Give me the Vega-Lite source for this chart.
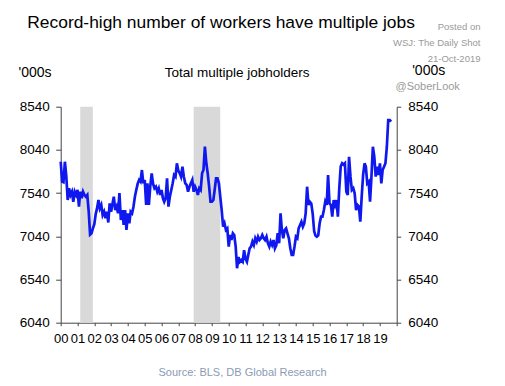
{
  "$schema": "https://vega.github.io/schema/vega-lite/v6.json",
  "width": 336,
  "height": 216,
  "autosize": {"type": "none"},
  "padding": {"left": 60.7, "top": 106.7, "right": 108.3, "bottom": 63.3},
  "background": "white",
  "config": {"view": {"stroke": null}, "font": "Liberation Sans", "axis": {"grid": false}},
  "title": {
    "text": "Record-high number of workers have multiple jobs",
    "anchor": "start",
    "frame": "group",
    "font": "Liberation Sans",
    "fontSize": 17.4,
    "fontWeight": "normal",
    "color": "#000000",
    "dx": -33.4,
    "dy": 14
  },
  "datasets": {
    "rec": [
      {"start": "2001-03-01", "end": "2001-11-30"},
      {"start": "2007-12-01", "end": "2009-06-30"}
    ],
    "jobs": [
      {"date":"2000-01-01","value":7903},{"date":"2000-02-01","value":7672},{"date":"2000-03-01","value":7665},{"date":"2000-04-01","value":7903},{"date":"2000-05-01","value":7740},{"date":"2000-06-01","value":7460},{"date":"2000-07-01","value":7596},{"date":"2000-08-01","value":7518},{"date":"2000-09-01","value":7556},{"date":"2000-10-01","value":7440},{"date":"2000-11-01","value":7556},{"date":"2000-12-01","value":7518},
      {"date":"2001-01-01","value":7576},{"date":"2001-02-01","value":7383},{"date":"2001-03-01","value":7556},{"date":"2001-04-01","value":7480},{"date":"2001-05-01","value":7556},{"date":"2001-06-01","value":7518},{"date":"2001-07-01","value":7498},{"date":"2001-08-01","value":7518},{"date":"2001-09-01","value":7325},{"date":"2001-10-01","value":7060},{"date":"2001-11-01","value":7075},{"date":"2001-12-01","value":7132},
      {"date":"2002-01-01","value":7180},{"date":"2002-02-01","value":7300},{"date":"2002-03-01","value":7363},{"date":"2002-04-01","value":7460},{"date":"2002-05-01","value":7363},{"date":"2002-06-01","value":7402},{"date":"2002-07-01","value":7286},{"date":"2002-08-01","value":7325},{"date":"2002-09-01","value":7248},{"date":"2002-10-01","value":7325},{"date":"2002-11-01","value":7200},{"date":"2002-12-01","value":7421},
      {"date":"2003-01-01","value":7325},{"date":"2003-02-01","value":7420},{"date":"2003-03-01","value":7498},{"date":"2003-04-01","value":7344},{"date":"2003-05-01","value":7383},{"date":"2003-06-01","value":7306},{"date":"2003-07-01","value":7540},{"date":"2003-08-01","value":7229},{"date":"2003-09-01","value":7344},{"date":"2003-10-01","value":7171},{"date":"2003-11-01","value":7344},{"date":"2003-12-01","value":7113},
      {"date":"2004-01-01","value":7306},{"date":"2004-02-01","value":7190},{"date":"2004-03-01","value":7325},{"date":"2004-04-01","value":7306},{"date":"2004-05-01","value":7383},{"date":"2004-06-01","value":7498},{"date":"2004-07-01","value":7576},{"date":"2004-08-01","value":7650},{"date":"2004-09-01","value":7692},{"date":"2004-10-01","value":7672},{"date":"2004-11-01","value":7807},{"date":"2004-12-01","value":7653},
      {"date":"2005-01-01","value":7692},{"date":"2005-02-01","value":7402},{"date":"2005-03-01","value":7653},{"date":"2005-04-01","value":7402},{"date":"2005-05-01","value":7614},{"date":"2005-06-01","value":7769},{"date":"2005-07-01","value":7650},{"date":"2005-08-01","value":7596},{"date":"2005-09-01","value":7614},{"date":"2005-10-01","value":7556},{"date":"2005-11-01","value":7596},{"date":"2005-12-01","value":7518},
      {"date":"2006-01-01","value":7576},{"date":"2006-02-01","value":7480},{"date":"2006-03-01","value":7440},{"date":"2006-04-01","value":7480},{"date":"2006-05-01","value":7711},{"date":"2006-06-01","value":7383},{"date":"2006-07-01","value":7498},{"date":"2006-08-01","value":7576},{"date":"2006-09-01","value":7653},{"date":"2006-10-01","value":7749},{"date":"2006-11-01","value":7730},{"date":"2006-12-01","value":7885},
      {"date":"2007-01-01","value":7800},{"date":"2007-02-01","value":7769},{"date":"2007-03-01","value":7730},{"date":"2007-04-01","value":7846},{"date":"2007-05-01","value":7730},{"date":"2007-06-01","value":7653},{"date":"2007-07-01","value":7634},{"date":"2007-08-01","value":7556},{"date":"2007-09-01","value":7614},{"date":"2007-10-01","value":7653},{"date":"2007-11-01","value":7692},{"date":"2007-12-01","value":7556},
      {"date":"2008-01-01","value":7614},{"date":"2008-02-01","value":7576},{"date":"2008-03-01","value":7518},{"date":"2008-04-01","value":7596},{"date":"2008-05-01","value":7576},{"date":"2008-06-01","value":7769},{"date":"2008-07-01","value":7807},{"date":"2008-08-01","value":8077},{"date":"2008-09-01","value":7885},{"date":"2008-10-01","value":7769},{"date":"2008-11-01","value":7614},{"date":"2008-12-01","value":7440},
      {"date":"2009-01-01","value":7440},{"date":"2009-02-01","value":7460},{"date":"2009-03-01","value":7576},{"date":"2009-04-01","value":7711},{"date":"2009-05-01","value":7711},{"date":"2009-06-01","value":7653},{"date":"2009-07-01","value":7498},{"date":"2009-08-01","value":7344},{"date":"2009-09-01","value":7151},{"date":"2009-10-01","value":7190},{"date":"2009-11-01","value":7113},{"date":"2009-12-01","value":7130},
      {"date":"2010-01-01","value":6920},{"date":"2010-02-01","value":7055},{"date":"2010-03-01","value":6997},{"date":"2010-04-01","value":7075},{"date":"2010-05-01","value":7055},{"date":"2010-06-01","value":6920},{"date":"2010-07-01","value":6670},{"date":"2010-08-01","value":6800},{"date":"2010-09-01","value":6746},{"date":"2010-10-01","value":6765},{"date":"2010-11-01","value":6746},{"date":"2010-12-01","value":6880},
      {"date":"2011-01-01","value":6780},{"date":"2011-02-01","value":6746},{"date":"2011-03-01","value":6820},{"date":"2011-04-01","value":6901},{"date":"2011-05-01","value":6920},{"date":"2011-06-01","value":6978},{"date":"2011-07-01","value":6939},{"date":"2011-08-01","value":7017},{"date":"2011-09-01","value":6978},{"date":"2011-10-01","value":7035},{"date":"2011-11-01","value":6997},{"date":"2011-12-01","value":7017},
      {"date":"2012-01-01","value":7055},{"date":"2012-02-01","value":7017},{"date":"2012-03-01","value":6997},{"date":"2012-04-01","value":7035},{"date":"2012-05-01","value":6960},{"date":"2012-06-01","value":6920},{"date":"2012-07-01","value":6978},{"date":"2012-08-01","value":6939},{"date":"2012-09-01","value":6997},{"date":"2012-10-01","value":6901},{"date":"2012-11-01","value":6939},{"date":"2012-12-01","value":7075},
      {"date":"2013-01-01","value":6959},{"date":"2013-02-01","value":7306},{"date":"2013-03-01","value":7113},{"date":"2013-04-01","value":7017},{"date":"2013-05-01","value":7113},{"date":"2013-06-01","value":7132},{"date":"2013-07-01","value":7075},{"date":"2013-08-01","value":7017},{"date":"2013-09-01","value":6901},{"date":"2013-10-01","value":6824},{"date":"2013-11-01","value":6824},{"date":"2013-12-01","value":6920},
      {"date":"2014-01-01","value":7035},{"date":"2014-02-01","value":7017},{"date":"2014-03-01","value":7132},{"date":"2014-04-01","value":7171},{"date":"2014-05-01","value":7209},{"date":"2014-06-01","value":7151},{"date":"2014-07-01","value":7190},{"date":"2014-08-01","value":7306},{"date":"2014-09-01","value":7614},{"date":"2014-10-01","value":7402},{"date":"2014-11-01","value":7440},{"date":"2014-12-01","value":7420},
      {"date":"2015-01-01","value":7300},{"date":"2015-02-01","value":7100},{"date":"2015-03-01","value":7050},{"date":"2015-04-01","value":7035},{"date":"2015-05-01","value":7050},{"date":"2015-06-01","value":7190},{"date":"2015-07-01","value":7267},{"date":"2015-08-01","value":7267},{"date":"2015-09-01","value":7344},{"date":"2015-10-01","value":7440},{"date":"2015-11-01","value":7402},{"date":"2015-12-01","value":7749},
      {"date":"2016-01-01","value":7421},{"date":"2016-02-01","value":7402},{"date":"2016-03-01","value":7267},{"date":"2016-04-01","value":7460},{"date":"2016-05-01","value":7402},{"date":"2016-06-01","value":7460},{"date":"2016-07-01","value":7267},{"date":"2016-08-01","value":7600},{"date":"2016-09-01","value":7850},{"date":"2016-10-01","value":7885},{"date":"2016-11-01","value":7870},{"date":"2016-12-01","value":7885},
      {"date":"2017-01-01","value":7556},{"date":"2017-02-01","value":7518},{"date":"2017-03-01","value":7961},{"date":"2017-04-01","value":7730},{"date":"2017-05-01","value":7576},{"date":"2017-06-01","value":7596},{"date":"2017-07-01","value":7537},{"date":"2017-08-01","value":7344},{"date":"2017-09-01","value":7402},{"date":"2017-10-01","value":7383},{"date":"2017-11-01","value":7209},{"date":"2017-12-01","value":7500},
      {"date":"2018-01-01","value":7750},{"date":"2018-02-01","value":7885},{"date":"2018-03-01","value":7846},{"date":"2018-04-01","value":7653},{"date":"2018-05-01","value":7672},{"date":"2018-06-01","value":7440},{"date":"2018-07-01","value":7730},{"date":"2018-08-01","value":8077},{"date":"2018-09-01","value":7961},{"date":"2018-10-01","value":7730},{"date":"2018-11-01","value":7846},{"date":"2018-12-01","value":7749},
      {"date":"2019-01-01","value":7885},{"date":"2019-02-01","value":7653},{"date":"2019-03-01","value":7807},{"date":"2019-04-01","value":7846},{"date":"2019-05-01","value":7885},{"date":"2019-06-01","value":8077},{"date":"2019-07-01","value":8386},{"date":"2019-08-01","value":8386},{"date":"2019-09-01","value":8366}
    ]
  },
  "layer": [
    {
      "data": {"name": "rec"},
      "mark": {"type": "rect", "color": "#d9d9d9"},
      "encoding": {
        "x": {"field": "start", "type": "temporal", "scale": {"type": "utc", "domain": [{"year": 2000, "month": 1, "date": 1, "utc": true}, {"year": 2020, "month": 1, "date": 1, "utc": true}]}, "axis": null},
        "x2": {"field": "end"}
      }
    },
    {
      "data": {"name": "jobs"},
      "mark": {"type": "line", "color": "#1018f0", "strokeWidth": 2.7},
      "encoding": {
        "x": {
          "field": "date", "type": "temporal",
          "scale": {"type": "utc", "domain": [{"year": 2000, "month": 1, "date": 1, "utc": true}, {"year": 2020, "month": 1, "date": 1, "utc": true}]},
          "axis": {
            "orient": "bottom",
            "values": [{"year":2000,"month":1,"date":1,"utc":true},{"year":2001,"month":1,"date":1,"utc":true},{"year":2002,"month":1,"date":1,"utc":true},{"year":2003,"month":1,"date":1,"utc":true},{"year":2004,"month":1,"date":1,"utc":true},{"year":2005,"month":1,"date":1,"utc":true},{"year":2006,"month":1,"date":1,"utc":true},{"year":2007,"month":1,"date":1,"utc":true},{"year":2008,"month":1,"date":1,"utc":true},{"year":2009,"month":1,"date":1,"utc":true},{"year":2010,"month":1,"date":1,"utc":true},{"year":2011,"month":1,"date":1,"utc":true},{"year":2012,"month":1,"date":1,"utc":true},{"year":2013,"month":1,"date":1,"utc":true},{"year":2014,"month":1,"date":1,"utc":true},{"year":2015,"month":1,"date":1,"utc":true},{"year":2016,"month":1,"date":1,"utc":true},{"year":2017,"month":1,"date":1,"utc":true},{"year":2018,"month":1,"date":1,"utc":true},{"year":2019,"month":1,"date":1,"utc":true},{"year":2020,"month":1,"date":1,"utc":true}],
            "labelExpr": "utcyear(datum.value) == 2020 ? '' : utcFormat(datum.value, '%y')",
            "labelOverlap": false,
            "labelFlush": false,
            "labelBound": false,
            "labelFontSize": 13,
            "labelColor": "#000000",
            "labelPadding": 7,
            "tickSize": 3,
            "tickColor": "#444444",
            "domainColor": "#444444",
            "title": "Source: BLS, DB Global Research",
            "titleFontSize": 11,
            "titleFontWeight": "normal",
            "titleColor": "#8b9bb4",
            "titleX": 181.3,
            "titleY": 49.5,
            "titleAlign": "center",
            "titleBaseline": "middle"
          }
        },
        "y": {
          "field": "value", "type": "quantitative",
          "scale": {"domain": [6040, 8540], "nice": false, "zero": false},
          "axis": {
            "orient": "left",
            "values": [6040, 6540, 7040, 7540, 8040, 8540],
            "format": "d",
            "tickSize": 5,
            "tickColor": "#444444",
            "domainColor": "#444444",
            "labelFontSize": 13.5,
            "labelColor": "#000000",
            "labelPadding": 6.5,
            "title": "'000s",
            "titleAngle": 0,
            "titleAlign": "left",
            "titleBaseline": "alphabetic",
            "titleX": -42.7,
            "titleY": -30.7,
            "titleFontSize": 14,
            "titleFontWeight": "normal",
            "titleColor": "#000000"
          }
        }
      }
    },
    {
      "data": {"name": "jobs"},
      "mark": {"type": "point", "opacity": 0},
      "encoding": {
        "x": {
          "field": "date", "type": "temporal",
          "axis": {
            "orient": "top", "domain": false, "ticks": false, "labels": false,
            "title": "Total multiple jobholders",
            "titleFontSize": 13.5, "titleFontWeight": "normal", "titleColor": "#000000",
            "titleX": 176, "titleY": -30.7, "titleAlign": "center", "titleBaseline": "alphabetic"
          }
        },
        "y": {
          "field": "value", "type": "quantitative",
          "axis": {
            "orient": "right",
            "values": [6040, 6540, 7040, 7540, 8040, 8540],
            "format": "d",
            "tickSize": 4,
            "tickColor": "#444444",
            "domainColor": "#444444",
            "labelFontSize": 13.5,
            "labelColor": "#000000",
            "labelPadding": 7,
            "title": "'000s",
            "titleAngle": 0,
            "titleAlign": "left",
            "titleBaseline": "alphabetic",
            "titleX": 15,
            "titleY": -32.5,
            "titleFontSize": 14,
            "titleFontWeight": "normal",
            "titleColor": "#000000"
          }
        }
      }
    },
    {
      "data": {"name": "jobs"},
      "mark": {"type": "point", "opacity": 0},
      "encoding": {
        "x": {
          "field": "date", "type": "temporal",
          "axis": {
            "orient": "top", "domain": false, "ticks": false, "labels": false,
            "title": "@SoberLook",
            "titleFontSize": 11, "titleFontWeight": "normal", "titleColor": "#9a9a9a",
            "titleX": 334.3, "titleY": -17.5, "titleAlign": "left", "titleBaseline": "alphabetic"
          }
        },
        "y": {
          "field": "value", "type": "quantitative",
          "axis": {
            "orient": "right", "domain": false, "ticks": false, "labels": false,
            "title": ["Posted on", "WSJ: The Daily Shot", "21-Oct-2019"],
            "titleAngle": 0,
            "titleAlign": "right",
            "titleBaseline": "alphabetic",
            "titleX": 83.3,
            "titleY": -77.2,
            "titleLineHeight": 16,
            "titleFontSize": 9.5,
            "titleFontWeight": "normal",
            "titleColor": "#9a9a9a"
          }
        }
      }
    }
  ],
  "resolve": {"axis": {"x": "independent", "y": "independent"}}
}
